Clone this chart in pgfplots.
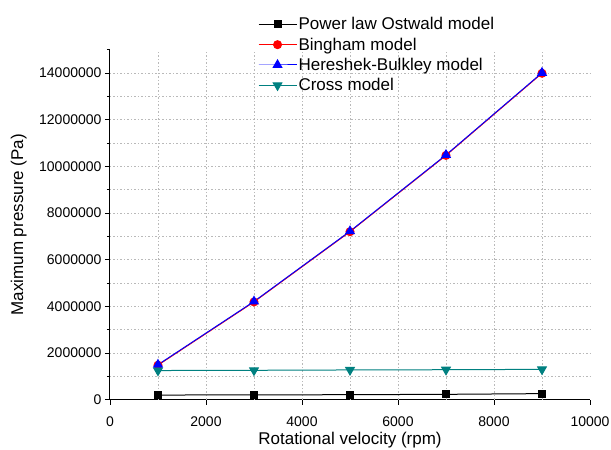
\documentclass[border=0pt]{standalone}
\usepackage{fontspec}
\setmainfont{Liberation Sans}
\usepackage{pgfplots}
\pgfplotsset{compat=1.18}
\definecolor{crossteal}{RGB}{0,128,128}
\definecolor{gridgray}{RGB}{185,185,185}
\begin{document}
\begin{tikzpicture}
\begin{axis}[
  at={(0pt,0pt)}, anchor=south west,
  width=480pt, height=350pt, scale only axis,
  xmin=0, xmax=10000, ymin=0, ymax=15000000,
  axis x line*=bottom, axis y line*=left,
  axis line style={-, line width=1pt, black},
  /pgf/number format/assume math mode=true,
  tick align=outside,
  major tick length=5pt, minor tick length=3pt,
  tick style={black, line width=0.8pt},
  xtick={0,2000,...,10000},
  ytick={0,2000000,...,14000000},
  minor ytick={1000000,3000000,...,15000000},
  scaled x ticks=false, scaled y ticks=false,
  xticklabel style={/pgf/number format/fixed, /pgf/number format/1000 sep={}, yshift=-8pt},
  yticklabel style={/pgf/number format/fixed, /pgf/number format/precision=0, /pgf/number format/1000 sep={}},
  ticklabel style={font=\fontsize{14}{16}\selectfont},
  extra x ticks={1000,2000,...,9000},
  extra x tick labels={},
  extra x tick style={xmajorgrids=true, major tick length=0pt},
  extra y ticks={1000000,2000000,...,14000000},
  extra y tick labels={},
  extra y tick style={ymajorgrids=true, major tick length=0pt},
  major grid style={gridgray, dash pattern=on 1.5pt off 2pt, line width=0.8pt},
  xlabel={Rotational velocity (rpm)},
  ylabel={Maximum pressure (Pa)},
  label style={font=\fontsize{17}{20}\selectfont},
  xlabel style={at={(axis description cs:0.5,-0.128)}, anchor=base},
  ylabel style={at={(axis description cs:-0.19,0.5)}, anchor=center},
  legend style={at={(axis description cs:0.308,1.097)}, anchor=north west, draw=none, fill=none,
    font=\fontsize{17}{20}\selectfont, row sep=3.5pt, inner sep=0pt,
    nodes={inner sep=1.5pt}},
  legend cell align=left,
  legend image code/.code={\draw[mark repeat=2,mark phase=2] plot coordinates {(0pt,0pt) (19pt,0pt) (38pt,0pt)};},
  clip=false,
]
\addplot[black, line width=1pt, mark=square*, mark size=3.5pt, mark options={solid, fill=black}]
  coordinates {(1000,200000) (3000,205000) (5000,215000) (7000,230000) (9000,260000)};
\addlegendentry{Power law Ostwald model}
\addplot[red, line width=1pt, mark=*, mark size=4pt, mark options={solid, fill=red}]
  coordinates {(1000,1480000) (3000,4190000) (5000,7200000) (7000,10470000) (9000,13990000)};
\addlegendentry{Bingham model}
\addplot[blue, line width=1pt, mark=triangle*, mark size=5pt, mark options={solid, fill=blue}]
  coordinates {(1000,1500000) (3000,4210000) (5000,7220000) (7000,10490000) (9000,14010000)};
\addlegendentry{Hereshek-Bulkley model}
\addplot[crossteal, line width=1pt, mark=triangle*, mark size=5pt, mark options={solid, fill=crossteal, rotate=180}]
  coordinates {(1000,1250000) (3000,1260000) (5000,1275000) (7000,1285000) (9000,1300000)};
\addlegendentry{Cross model}
\end{axis}
\pgfresetboundingbox
\useasboundingbox (-110pt,-50.3pt) rectangle (501pt,399.7pt);
\end{tikzpicture}
\end{document}
